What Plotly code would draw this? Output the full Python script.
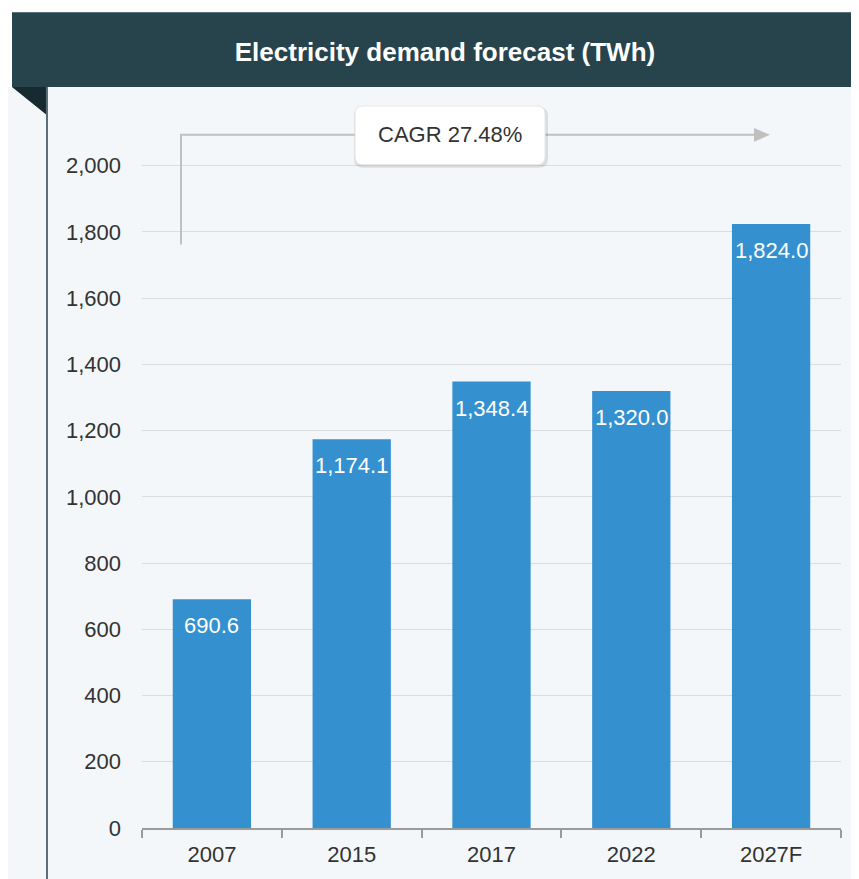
import plotly.graph_objects as go

categories = ["2007", "2015", "2017", "2022", "2027F"]
values = [690.6, 1174.1, 1348.4, 1320.0, 1824.0]
value_labels = ["690.6", "1,174.1", "1,348.4", "1,320.0", "1,824.0"]
title_text = "Electricity demand forecast (TWh)"
cagr_text = "CAGR 27.48%"
y_ticks = [0, 200, 400, 600, 800, 1000, 1200, 1400, 1600, 1800, 2000]
y_tick_labels = ["0", "200", "400", "600", "800", "1,000", "1,200", "1,400", "1,600", "1,800", "2,000"]

OFF = 8  # browser body margin
PAGE_W, PAGE_H = 859, 879
W, H = PAGE_W - OFF, PAGE_H - OFF
# plot area in page pixels
PL, PR, PT, PB = 142, 841, 100, 831
L, R, T, B = PL - OFF, (PAGE_W - OFF) - (PR - OFF), PT - OFF, H - (PB - OFF)
R = W - (PR - OFF)
PW = PR - PL
PH = PB - PT
YMAX = 2000 * (PB - PT) / (PB - 166)

def px_x(p):  # page pixel -> paper x
    return (p - PL) / PW

def px_y(p):  # page pixel -> paper y
    return (PB - p) / PH

def dx(p):  # page pixel x -> category coordinate
    return -0.5 + (p - PL) / (PW / len(categories))

def dy(p):  # page pixel y -> data value
    return (PB - p) * YMAX / (PB - PT)

FONT = "Liberation Sans, Arial, sans-serif"
PANEL = "#f3f7f9"

fig = go.Figure()
fig.add_trace(go.Bar(
    x=categories, y=values, marker=dict(color="#3590d0", line=dict(width=0)),
    textposition="none", hoverinfo="skip", width=0.56,
))

shapes = []
# white margin above header and left of header
shapes.append(dict(type="rect", xref="paper", yref="paper", x0=px_x(-20), x1=px_x(PAGE_W + 20),
                   y0=px_y(12), y1=px_y(-20), fillcolor="white", line=dict(width=0), layer="above"))
shapes.append(dict(type="rect", xref="paper", yref="paper", x0=px_x(-20), x1=px_x(12),
                   y0=px_y(87), y1=px_y(-20), fillcolor="white", line=dict(width=0), layer="above"))
# header band
shapes.append(dict(type="rect", xref="paper", yref="paper", x0=px_x(12), x1=px_x(PAGE_W + 20),
                   y0=px_y(87), y1=px_y(12), fillcolor="#27444d", line=dict(width=0), layer="above"))
# fold triangle
shapes.append(dict(type="path", xref="paper", yref="paper",
                   path=f"M {px_x(12)},{px_y(87)} L {px_x(48)},{px_y(87)} L {px_x(48)},{px_y(116)} Z",
                   fillcolor="#172a30", line=dict(width=0), layer="above"))
# vertical dark line
shapes.append(dict(type="line", xref="paper", yref="paper", x0=px_x(47), x1=px_x(47),
                   y0=px_y(87), y1=px_y(PAGE_H + 20), line=dict(color="#5b6e77", width=2), layer="above"))

# CAGR bracket
bx = dx(181)
shapes.append(dict(type="path", xref="x", yref="y",
                   path=f"M {bx},{dy(245)} L {bx},{dy(135)} L {dx(758)},{dy(135)}",
                   line=dict(color="#c0c0c0", width=2), layer="above"))
shapes.append(dict(type="path", xref="x", yref="y",
                   path=f"M {dx(770)},{dy(135)} L {dx(754)},{dy(128)} L {dx(754)},{dy(142)} Z",
                   fillcolor="#c0c0c0", line=dict(width=0), layer="above"))

def rounded(x0, y0, x1, y1, r):
    return (f"M {dx(x0 + r)},{dy(y0)} L {dx(x1 - r)},{dy(y0)} Q {dx(x1)},{dy(y0)} {dx(x1)},{dy(y0 + r)} "
            f"L {dx(x1)},{dy(y1 - r)} Q {dx(x1)},{dy(y1)} {dx(x1 - r)},{dy(y1)} "
            f"L {dx(x0 + r)},{dy(y1)} Q {dx(x0)},{dy(y1)} {dx(x0)},{dy(y1 - r)} "
            f"L {dx(x0)},{dy(y0 + r)} Q {dx(x0)},{dy(y0)} {dx(x0 + r)},{dy(y0)} Z")

shapes.append(dict(type="path", xref="x", yref="y", path=rounded(354, 107, 548, 168, 9),
                   fillcolor="rgba(0,0,0,0.10)", line=dict(width=0), layer="above"))
shapes.append(dict(type="path", xref="x", yref="y", path=rounded(355, 106, 545, 165, 8),
                   fillcolor="white", line=dict(color="#e6e6e6", width=1), layer="above"))

annotations = []
annotations.append(dict(x=dx(450), y=dy(135), xref="x", yref="y", text=cagr_text, showarrow=False,
                        font=dict(family=FONT, size=22, color="#333333"), xanchor="center", yanchor="middle"))
for i, (v, t) in enumerate(zip(values, value_labels)):
    annotations.append(dict(x=i, y=v, xref="x", yref="y", text=t, showarrow=False, yanchor="top",
                            yshift=-12, font=dict(family=FONT, size=22, color="white")))

fig.update_layout(
    width=W, height=H,
    margin=dict(l=L, r=R, t=T, b=B, pad=0),
    paper_bgcolor=PANEL, plot_bgcolor=PANEL,
    showlegend=False,
    title=dict(text=f"<b>{title_text}</b>", x=(445 - OFF) / W, y=1 - (52 - OFF) / H,
               xanchor="center", yanchor="middle",
               font=dict(family=FONT, size=26, color="white")),
    shapes=shapes, annotations=annotations,
    xaxis=dict(type="category", tickson="boundaries", ticks="outside", ticklen=8, tickwidth=2,
               tickcolor="#9a9a9a", showline=True, linecolor="#9a9a9a", linewidth=2,
               showgrid=False, tickfont=dict(family=FONT, size=22, color="#333333"),
               ticklabelstandoff=6,
               range=[-0.5, len(categories) - 0.5], fixedrange=True),
    yaxis=dict(range=[0, YMAX], tickvals=y_ticks, ticktext=y_tick_labels, showgrid=True,
               gridcolor="#dcdcdc", gridwidth=1, zeroline=False, showline=False, ticks="",
               ticklabelstandoff=20, tickfont=dict(family=FONT, size=22, color="#333333"),
               fixedrange=True),
)

fig.write_html("out.html")
